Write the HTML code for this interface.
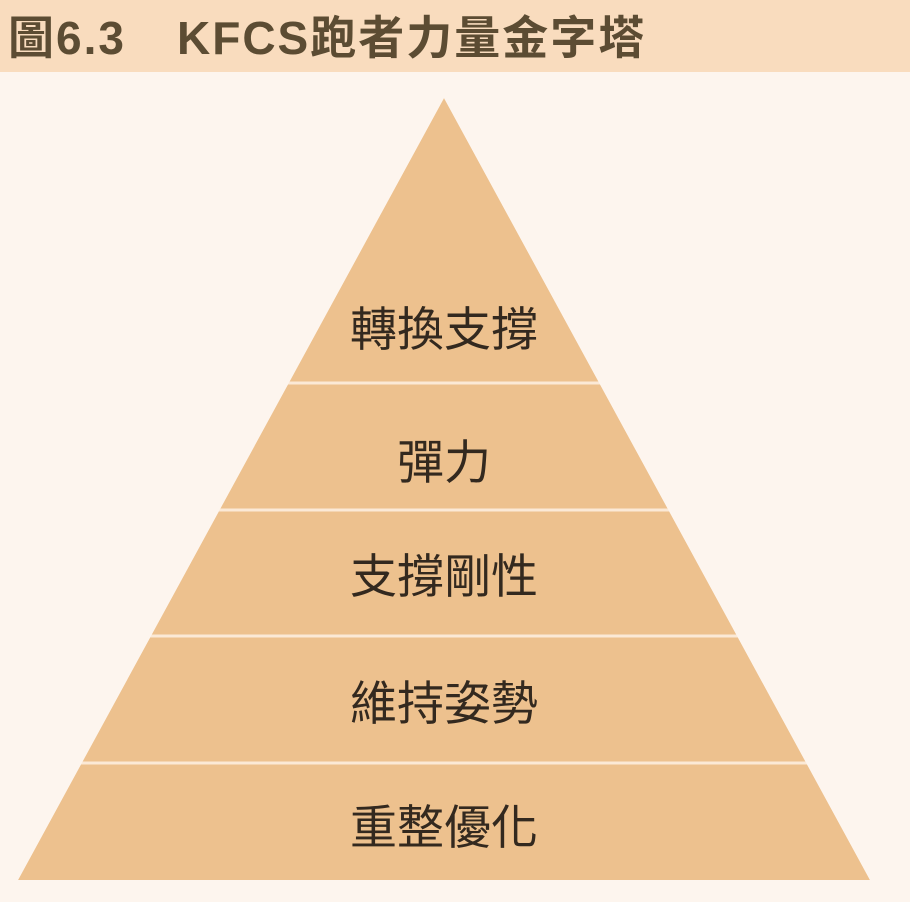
<!DOCTYPE html>
<html><head><meta charset="utf-8"><style>
html,body{margin:0;padding:0;}
body{width:910px;height:902px;background:#fdf5ee;position:relative;overflow:hidden;font-family:"Liberation Sans","Noto Sans CJK TC",sans-serif;}
.hd{position:absolute;left:0;top:0;width:910px;height:72px;background:#f9dcbe;}
.t{position:absolute;top:12px;font-size:46px;line-height:52px;color:#5c4c33;font-weight:bold;white-space:nowrap;letter-spacing:2px;}
svg{position:absolute;left:0;top:0;}
</style></head><body>
<div class="hd"></div>
<div class="t" style="left:8px">圖6.3</div>
<div class="t" style="left:177px">KFCS跑者力量金字塔</div>
<svg width="910" height="902">
<polygon points="444,98 870,880 18,880" fill="#edc18e"/>
<g stroke="#fbe9d6" stroke-width="3">
<line x1="0" y1="383" x2="910" y2="383"/>
<line x1="0" y1="510" x2="910" y2="510"/>
<line x1="0" y1="636" x2="910" y2="636"/>
<line x1="0" y1="763" x2="910" y2="763"/>
</g>
<polygon points="444,98 0,98 0,902 18,880" fill="#fdf5ee"/>
<polygon points="444,98 910,98 910,902 870,880" fill="#fdf5ee"/>
<g font-family="Liberation Sans, Noto Sans CJK TC, sans-serif" font-size="47" fill="#33291f" text-anchor="middle">
<text x="444" y="346">轉換支撐</text>
<text x="444" y="479">彈力</text>
<text x="444" y="593">支撐剛性</text>
<text x="444" y="720">維持姿勢</text>
<text x="444" y="844">重整優化</text>
</g>
</svg>
</body></html>
